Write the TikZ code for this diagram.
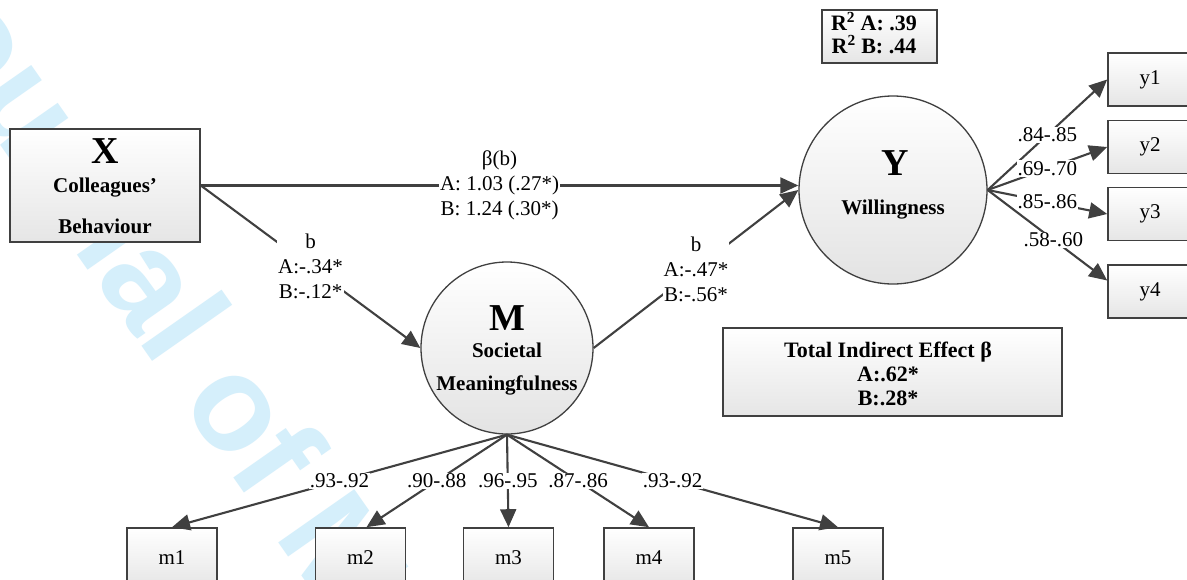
\documentclass[tikz,border=0pt]{standalone}
\usepackage{fontspec}
\setmainfont{Liberation Serif}
\newfontfamily\wmfont{Liberation Sans}
\usetikzlibrary{arrows.meta}
\definecolor{lc}{RGB}{64,64,64}
\definecolor{wmc}{RGB}{213,239,251}
\begin{document}
\begin{tikzpicture}[x=1pt,y=-1pt,
  arr/.style={draw=lc, line width=2.1pt, -{Triangle[length=18pt,width=16pt]}},
  box/.style={draw=lc, line width=1.6pt, top color=white, bottom color=black!10, inner sep=0pt, font=\fontsize{21}{25}\selectfont},
  circ/.style={circle, draw=lc, line width=1.3pt, top color=white, bottom color=black!11, inner sep=0pt},
  lab/.style={fill=white, inner sep=1pt, align=center, font=\fontsize{21}{25}\selectfont},
  bt/.style={anchor=base, inner sep=0pt, font=\fontsize{21}{25}\selectfont\bfseries},
  bts/.style={anchor=base, inner sep=0pt, font=\fontsize{22}{26}\selectfont\bfseries},
  big/.style={anchor=base, inner sep=0pt, font=\fontsize{38}{38}\selectfont\bfseries},
  wm/.style={anchor=base west, inner sep=0pt, text=wmc, font=\fontsize{135}{135}\selectfont\wmfont\bfseries}
]
\useasboundingbox (0,0) rectangle (1187,579);
\clip (0,0) rectangle (1187,579);
\fill[white] (0,0) rectangle (1187,579);

% watermark
\node[wm, rotate=-55] (wmark) at (-122,-30) {Journal of M};

% main nodes
\node[box, minimum width=190, minimum height=113] (X) at (105,185.5) {};
\node[circ, minimum size=172] (M) at (507,348) {};
\node[circ, minimum size=188] (Y) at (893,190) {};
\node[box, minimum width=115, minimum height=53] (R) at (879.5,36.5) {};
\node[box, minimum width=339, minimum height=88] (T) at (892.5,372) {};

% indicator boxes
\node[box, minimum width=84, minimum height=53] (y1) at (1150,79.5) {y1};
\node[box, minimum width=84, minimum height=53] (y2) at (1150,147) {y2};
\node[box, minimum width=84, minimum height=53] (y3) at (1150,214) {y3};
\node[box, minimum width=84, minimum height=53] (y4) at (1150,291.5) {y4};
\node[box, minimum width=90, minimum height=60] (m1) at (172,558) {m1};
\node[box, minimum width=90, minimum height=60] (m2) at (360.5,558) {m2};
\node[box, minimum width=90, minimum height=60] (m3) at (508.5,558) {m3};
\node[box, minimum width=90, minimum height=60] (m4) at (649,558) {m4};
\node[box, minimum width=90, minimum height=60] (m5) at (838,558) {m5};

% texts in nodes
\node[big] (Xt) at (105,163) {X};
\node[bt] (Xa) at (105,192) {Colleagues’};
\node[bt] (Xb) at (105,233) {Behaviour};
\node[big] (Mt) at (507,330) {M};
\node[bt] (Ma) at (507,357) {Societal};
\node[bt] (Mb) at (507,390) {Meaningfulness};
\node[big] (Yt) at (895,175) {Y};
\node[bt] (Ya) at (893,214) {Willingness};
\node[bts] (Ra) at (874,30) {R\textsuperscript{2} A: .39};
\node[bts] (Rb) at (874,53) {R\textsuperscript{2} B: .44};
\node[bts] (Ta) at (888,357) {Total Indirect Effect β};
\node[bts] (Tb) at (888,381) {A:.62*};
\node[bts] (Tc) at (888,405) {B:.28*};

% connectors
\draw[arr] (X.east) -- coordinate[pos=.5] (cXY) (X.east -| Y.west);
\draw[arr] (X.east) -- coordinate[pos=.5] (cXM) (M.west);
\draw[arr] (M.east) -- coordinate[pos=.5] (cMY) (Y.west);
\draw[arr] (Y.east) -- coordinate[pos=.5] (cy1) (y1.west);
\draw[arr] (Y.east) -- coordinate[pos=.5] (cy2) (y2.west);
\draw[arr] (Y.east) -- coordinate[pos=.5] (cy3) (y3.west);
\draw[arr] (Y.east) -- coordinate[pos=.55] (cy4) ([yshift=11pt]y4.west);
\draw[arr] (M.south) -- coordinate[pos=.5] (cm1) (m1.north);
\draw[arr] (M.south) -- coordinate[pos=.5] (cm2) ([xshift=6pt]m2.north);
\draw[arr] (M.south) -- coordinate[pos=.5] (cm3) (m3.north);
\draw[arr] (M.south) -- coordinate[pos=.5] (cm4) (m4.north);
\draw[arr] (M.south) -- coordinate[pos=.5] (cm5) (m5.north);

% connector labels
\node[lab] (lXY) at (cXY) {β(b)\\A: 1.03 (.27*)\\B: 1.24 (.30*)};
\node[lab] (lXM) at (cXM) {b\\A:-.34*\\B:-.12*};
\node[lab] (lMY) at (cMY) {b\\A:-.47*\\B:-.56*};
\node[lab] (ly1) at (cy1) {.84-.85};
\node[lab] (ly2) at (cy2) {.69-.70};
\node[lab] (ly3) at (cy3) {.85-.86};
\node[lab] (ly4) at (cy4) {.58-.60};
\node[lab] (lm1) at (cm1) {.93-.92};
\node[lab] (lm2) at (cm2) {.90-.88};
\node[lab] (lm3) at (cm3) {.96-.95};
\node[lab] (lm4) at (cm4) {.87-.86};
\node[lab] (lm5) at (cm5) {.93-.92};
\end{tikzpicture}
\end{document}
